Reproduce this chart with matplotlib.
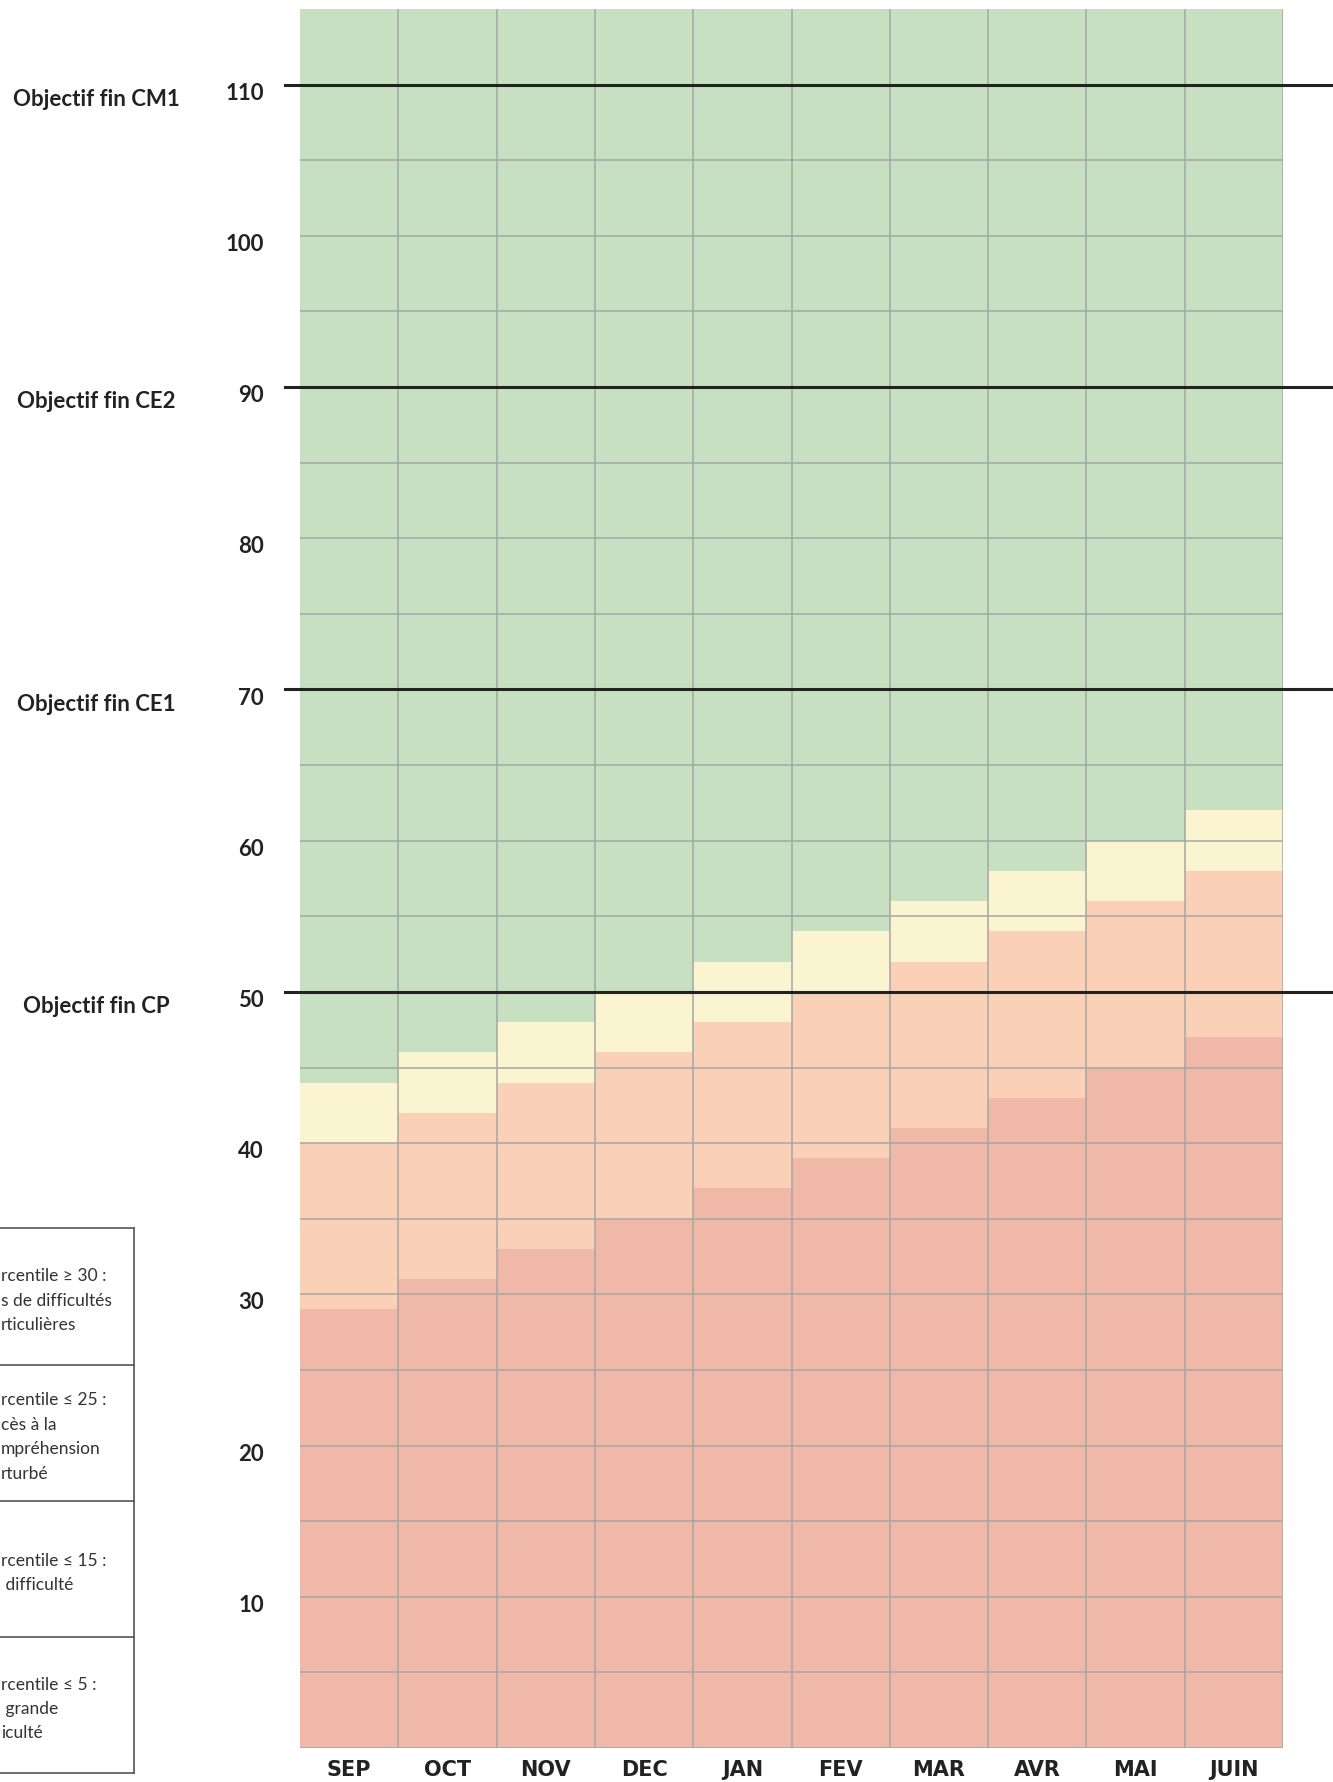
import matplotlib
matplotlib.use("Agg")
import matplotlib.pyplot as plt
from matplotlib.lines import Line2D
from matplotlib.transforms import blended_transform_factory, ScaledTranslation

months = ['SEP', 'OCT', 'NOV', 'DEC', 'JAN', 'FEV', 'MAR', 'AVR', 'MAI', 'JUIN']
p5 = [29, 31, 33, 35, 37, 39, 41, 43, 45, 47]
p15 = [40, 42, 44, 46, 48, 50, 52, 54, 56, 58]
p25 = [44, 46, 48, 50, 52, 54, 56, 58, 60, 62]
y_top = 115

objectifs = [50, 70, 90, 110]
objectif_labels = ['Objectif fin CP', 'Objectif fin CE1', 'Objectif fin CE2', 'Objectif fin CM1']
yticks = [10, 20, 30, 40, 50, 60, 70, 80, 90, 100, 110]

legend_rows = [
    "rcentile ≥ 30 :\ns de difficultés\nrticulières",
    "rcentile ≤ 25 :\ncès à la\nmpréhension\nrturbé",
    "rcentile ≤ 15 :\n difficulté",
    "rcentile ≤ 5 :\n grande\niculté",
]

c_dark = '#F0B8A6'
c_light = '#FAD1B6'
c_cream = '#FAF4D0'
c_green = '#C8E0C2'
c_grid = '#A6A6A6'

W, H = 1333, 1783
fig = plt.figure(figsize=(W / 100, H / 100), dpi=100)
ax = fig.add_axes([300 / W, 1 - 1749 / H, 983 / W, 1739 / H])

x = range(len(months))
green_h = [y_top - v for v in p25]
ax.bar(x, p5, width=1, align='edge', color=c_dark, linewidth=0)
ax.bar(x, [b - a for a, b in zip(p5, p15)], bottom=p5, width=1, align='edge', color=c_light, linewidth=0)
ax.bar(x, [b - a for a, b in zip(p15, p25)], bottom=p15, width=1, align='edge', color=c_cream, linewidth=0)
ax.bar(x, green_h, bottom=p25, width=1, align='edge', color=c_green, linewidth=0)

ax.set_xlim(0, len(months))
ax.set_ylim(0, y_top)

# grid
for i in range(1, len(months) + 1):
    ax.axvline(i, color=c_grid, lw=1.1, zorder=3)
for yv in range(0, 111, 5):
    ax.axhline(yv, color=c_grid, lw=1.1, zorder=3)

# objective lines
for yv in objectifs:
    ax.plot([-0.15, 10.8], [yv, yv], color='#222222', lw=2.2, zorder=4, clip_on=False)

for sp in ax.spines.values():
    sp.set_visible(False)

ax.set_yticks(yticks)
ax.set_yticklabels([str(v) for v in yticks], fontsize=16, fontweight='bold', family='Lato', color='#222222')
ax.tick_params(axis='y', length=0, pad=26)
shift = ScaledTranslation(0, -4 / 72, fig.dpi_scale_trans)
for lab in ax.get_yticklabels():
    lab.set_transform(lab.get_transform() + shift)
ax.set_xticks([i + 0.5 for i in x])
ax.set_xticklabels(months, fontsize=15, fontweight='bold',
                   family=['Liberation Sans Narrow', 'DejaVu Sans'], color='#222222')
ax.tick_params(axis='x', length=0, pad=8)

trans = blended_transform_factory(fig.transFigure, ax.transData)
for yv, lab in zip(objectifs, objectif_labels):
    ax.text(96 / W, yv - 0.9, lab, transform=trans, ha='center', va='center',
            fontsize=16, fontweight='bold', family='Lato', color='#222222')

# legend box (cut at left edge)
box_right = 134
rows_y = [1229, 1366, 1502, 1638, 1774]
lc = '#555555'
fig.add_artist(Line2D([box_right / W, box_right / W], [1 - rows_y[0] / H, 1 - rows_y[-1] / H],
                      transform=fig.transFigure, color=lc, lw=1.2))
for yy in rows_y:
    fig.add_artist(Line2D([-0.01, box_right / W], [1 - yy / H, 1 - yy / H],
                          transform=fig.transFigure, color=lc, lw=1.2))
for k, txt in enumerate(legend_rows):
    yc = (rows_y[k] + rows_y[k + 1]) / 2 + 3
    fig.text(1 / W, 1 - yc / H, txt, ha='left', va='center', fontsize=12.5,
             family='Lato', color='#333333', linespacing=1.65)

fig.savefig('out.png', dpi=100)
